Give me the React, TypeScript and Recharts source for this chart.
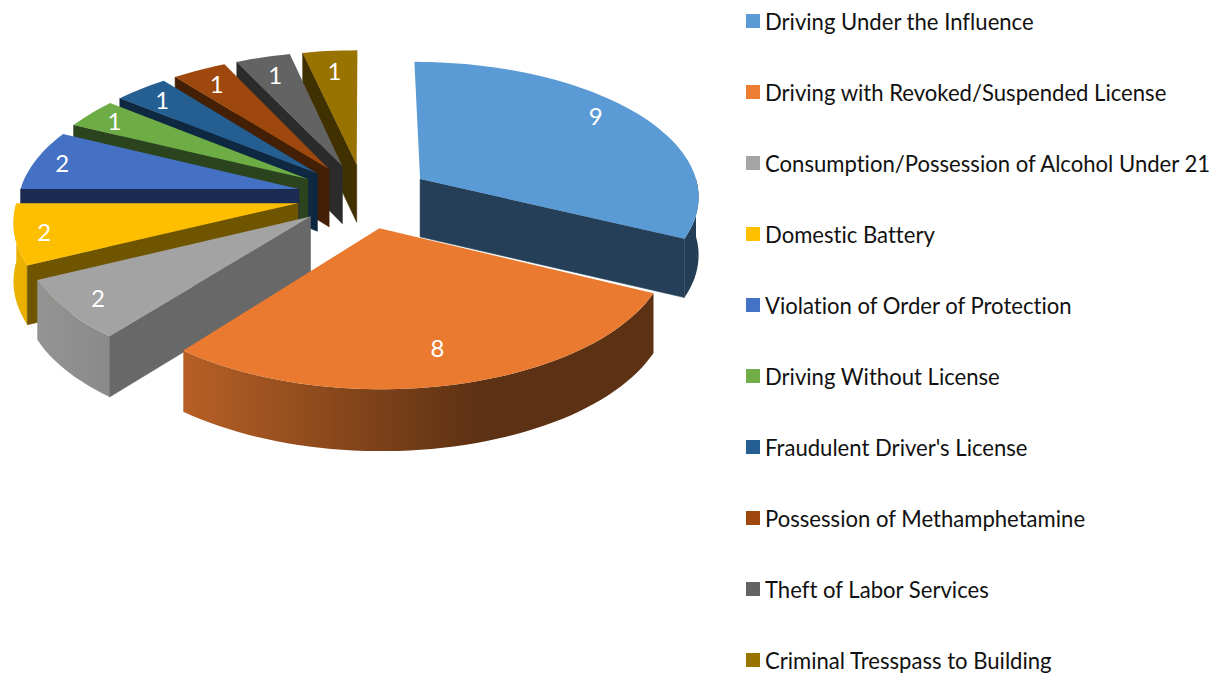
import React from 'react';
import { PieChart, Pie, Legend } from 'recharts';

const charges = [
  'Driving Under the Influence',
  'Driving with Revoked/Suspended License',
  'Consumption/Possession of Alcohol Under 21',
  'Domestic Battery',
  'Violation of Order of Protection',
  'Driving Without License',
  "Fraudulent Driver's License",
  'Possession of Methamphetamine',
  'Theft of Labor Services',
  'Criminal Tresspass to Building',
];
const counts = [9, 8, 2, 2, 2, 1, 1, 1, 1, 1];
const topColors = ['#5b9bd5', '#e97a30', '#a3a3a3', '#fdbf00', '#4471c3', '#6ead46', '#255e91', '#9e480e', '#636363', '#997300'];
const legendColors = ['#5b9bd5', '#ed7d31', '#a5a5a5', '#ffc000', '#4472c4', '#70ad47', '#255e91', '#9e480e', '#636363', '#997300'];
const wallColors = ['#243f57', '#5f3013', '#686868', '#705500', '#1b2b51', '#2c441e', '#0f2841', '#421f05', '#2b2b2b', '#423100'];
// back slices first, the two big ones last
const drawOrder = [9, 8, 7, 6, 5, 4, 3, 2, 0, 1];

const data = charges.map((name, i) => ({ name, value: counts[i] }));

// fake 3D projection of the flat pie
const RADIUS = 280;
const EXPLODE = 0.24;
const TILT = 0.48;
const PERSPECTIVE = 0.115;
const DEPTH = 58;

const project = (cx: number, cy: number, wx: number, wy: number, z: number) => {
  const s = 1 / (1 - (PERSPECTIVE * wy) / RADIUS);
  return [cx + wx * s, cy + wy * TILT * s + z * (1 + (s - 1) * 0.4)];
};

const dir = (deg: number) => [Math.sin((deg * Math.PI) / 180), -Math.cos((deg * Math.PI) / 180)];

const toPath = (pts: number[][]) =>
  pts.map((p, i) => `${i ? 'L' : 'M'}${p[0].toFixed(1)},${p[1].toFixed(1)}`).join('') + 'Z';

const shade = (hex: string, f: number) => {
  const n = parseInt(hex.slice(1), 16);
  const c = [(n >> 16) & 255, (n >> 8) & 255, n & 255].map((v) => Math.round(v * f));
  return `rgb(${c[0]},${c[1]},${c[2]})`;
};

const Slice = ({ idx, cx, cy, outerRadius, startAngle, endAngle }: any) => {
  // recharts angles run counter-clockwise from 3 o'clock
  const from = 90 - startAngle;
  const to = 90 - endAngle;
  const mid = (from + to) / 2;
  const [ox, oy] = dir(mid);
  const ax = ox * EXPLODE * outerRadius;
  const ay = oy * EXPLODE * outerRadius;
  const rim = (deg: number, z: number) => {
    const [dx, dy] = dir(deg);
    return project(cx, cy, ax + dx * outerRadius, ay + dy * outerRadius, z);
  };
  const apex = (z: number) => project(cx, cy, ax, ay, z);
  const arc = (a: number, b: number, z: number) => {
    const pts = [];
    const steps = Math.max(2, Math.ceil(Math.abs(b - a) / 2));
    for (let i = 0; i <= steps; i++) pts.push(rim(a + ((b - a) * i) / steps, z));
    return pts;
  };
  const frontA = Math.max(from, 90);
  const frontB = Math.min(to, 270);
  const color = topColors[idx];
  const gradId = `rim-${idx}`;
  // only the cut faces turned towards the viewer get drawn
  const showFrom = from > 180;
  const showTo = to < 180;
  return (
    <g>
      <defs>
        <linearGradient id={gradId} gradientUnits="userSpaceOnUse" x1={0} y1={0} x2={480} y2={0}>
          <stop offset="0" stopColor={shade(color, 0.94)} />
          <stop offset="0.39" stopColor={shade(color, 0.78)} />
          <stop offset="1" stopColor={shade(color, 0.4)} />
        </linearGradient>
      </defs>
      {frontB > frontA && (
        <path
          d={toPath([...arc(frontA, frontB, 0), ...arc(frontB, frontA, DEPTH)])}
          fill={`url(#${gradId})`}
        />
      )}
      {showFrom && <path d={toPath([apex(0), rim(from, 0), rim(from, DEPTH), apex(DEPTH)])} fill={wallColors[idx]} stroke={wallColors[idx]} strokeWidth={0.6} />}
      {showTo && <path d={toPath([apex(0), rim(to, 0), rim(to, DEPTH), apex(DEPTH)])} fill={wallColors[idx]} stroke={wallColors[idx]} strokeWidth={0.6} />}
      <path d={toPath([apex(0), ...arc(from, to, 0)])} fill={color} />
    </g>
  );
};

const renderLabel = ({ cx, cy, outerRadius, midAngle, value }: any) => {
  const [ox, oy] = dir(90 - midAngle);
  // labels sit further out on the left hand side, a bit higher on the right
  const r = outerRadius * (1.04 + 0.1 * Math.max(0, -ox));
  const [x, y] = project(cx, cy, ox * r, oy * r, 0);
  return (
    <text x={x} y={y - 12 * Math.max(0, ox)} fill="#fff" fontSize={24} fontFamily="Lato" textAnchor="middle" dominantBaseline="central">
      {value}
    </text>
  );
};

const renderLegend = () => (
  <div>
    {charges.map((name, i) => (
      <div
        key={name}
        style={{ position: 'absolute', left: 0, top: 71 * i, height: 24, display: 'flex', alignItems: 'center', whiteSpace: 'nowrap' }}
      >
        <span style={{ width: 14, height: 14, background: legendColors[i], marginRight: 5 }} />
        <span style={{ fontFamily: 'Lato', fontSize: 22.1, color: '#111', fontVariantLigatures: 'none' }}>{name}</span>
      </div>
    ))}
  </div>
);

export default function App() {
  return (
    <div style={{ position: 'absolute', left: 0, top: 0, width: 1215, height: 673 }}>
      <PieChart width={1215} height={673} margin={{ top: 0, right: 0, bottom: 0, left: 0 }}>
        {drawOrder.map((idx) => (
          <Pie
            key={idx}
            data={data}
            dataKey="value"
            nameKey="name"
            cx={364}
            cy={196}
            innerRadius={0}
            outerRadius={RADIUS}
            startAngle={90}
            endAngle={-270}
            stroke="none"
            legendType="none"
            isAnimationActive={false}
            shape={(props: any) =>
              props.index === idx ? <Slice idx={idx} {...props} /> : <g />
            }
          />
        ))}
        <Pie
          data={data}
          dataKey="value"
          cx={364}
          cy={196}
          outerRadius={RADIUS}
          startAngle={90}
          endAngle={-270}
          fill="none"
          stroke="none"
          legendType="none"
          label={renderLabel}
          labelLine={false}
          isAnimationActive={false}
          shape={() => <g />}
        />
        <Legend
          content={renderLegend}
          wrapperStyle={{ position: 'absolute', left: 746, top: 9, width: 469, height: 660 }}
        />
      </PieChart>
    </div>
  );
}
